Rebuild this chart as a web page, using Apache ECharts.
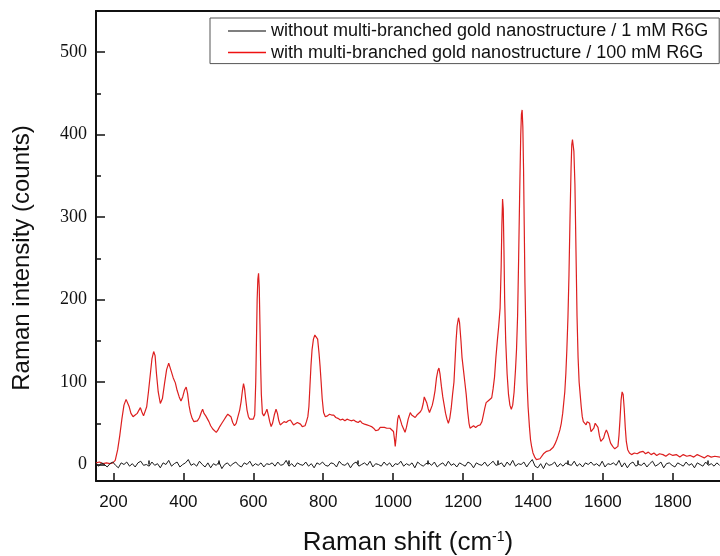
<!DOCTYPE html>
<html>
<head>
<meta charset="utf-8">
<script src="https://cdn.jsdelivr.net/npm/echarts@6/dist/echarts.min.js"></script>
<style>html,body{margin:0;padding:0;background:#fff;}#chart{width:720px;height:556px;}</style>
</head>
<body>
<div id="chart"></div>
<script>
// Tick labels
const xMajorTicks = [200, 400, 600, 800, 1000, 1200, 1400, 1600, 1800];
const xMinorTicks = [300, 500, 700, 900, 1100, 1300, 1500, 1700, 1900];
const yMajorTicks = [0, 100, 200, 300, 400, 500];
const yMinorTicks = [50, 150, 250, 350, 450];

const seriesNames = [
  'without multi-branched gold nanostructure / 1 mM R6G',
  'with multi-branched gold nanostructure / 100 mM R6G'
];

// Red trace: Raman shift (cm-1) and counts
const redShift = [150,160,170,180,190,198,205,212,218,224,230,236,240,245,250,256,262,268,273,277,281,286,290,295,300,305,310,315,319,323,328,334,340,346,352,358,362,366,371,377,382,388,393,398,403,408,412,416,420,425,430,434,440,446,451,455,459,464,468,473,478,484,489,494,499,504,510,516,522,527,531,536,541,546,551,556,561,565,569,572,575,578,582,586,590,595,600,604,607,609,611,613,615,617,619,621,623,626,630,634,639,643,647,651,655,660,665,669,673,677,682,688,694,700,706,711,715,720,726,730,735,740,744,748,752,756,759,762,765,768,772,776,780,784,788,791,794,797,801,806,812,818,824,830,836,842,849,856,862,868,874,880,887,894,900,906,912,918,925,932,938,944,950,953,958,963,968,975,982,991,996,1001,1004,1006,1009,1013,1016,1020,1025,1030,1034,1038,1043,1049,1053,1058,1063,1068,1073,1078,1082,1086,1089,1092,1096,1100,1104,1108,1112,1116,1120,1124,1128,1131,1134,1138,1142,1146,1150,1154,1158,1162,1166,1170,1174,1177,1180,1183,1187,1190,1194,1197,1201,1205,1209,1213,1217,1220,1225,1230,1236,1242,1249,1254,1258,1262,1266,1270,1274,1278,1282,1286,1290,1294,1298,1302,1306,1309,1311,1313,1315,1317,1319,1322,1326,1330,1334,1338,1342,1346,1350,1353,1356,1359,1362,1365,1367,1369,1371,1373,1375,1377,1380,1383,1386,1390,1393,1396,1400,1405,1410,1415,1420,1425,1430,1435,1439,1444,1448,1453,1458,1463,1468,1472,1477,1481,1485,1488,1491,1494,1497,1500,1503,1506,1509,1511,1513,1515,1517,1520,1523,1526,1529,1532,1535,1538,1541,1544,1548,1552,1555,1558,1562,1566,1570,1574,1578,1582,1586,1590,1594,1598,1602,1606,1610,1614,1618,1622,1628,1634,1639,1643,1646,1649,1652,1655,1658,1661,1664,1667,1671,1676,1682,1690,1698,1706,1715,1722,1730,1738,1746,1754,1762,1772,1780,1790,1800,1810,1820,1830,1840,1850,1860,1870,1880,1890,1900,1910,1920,1935];
const redCounts = [2,3,1,2,1,2,5,18,35,55,72,79,77,70,62,58,60,62,66,69,64,59,61,70,88,108,128,137,132,110,88,74,80,98,115,123,122,112,105,99,90,82,77,82,90,94,86,72,63,56,52,50,53,57,63,67,62,59,58,52,47,43,42,39,42,46,50,54,58,61,63,58,51,47,50,58,66,76,90,98,92,80,66,58,55,54,55,60,100,150,200,225,232,215,170,120,85,62,59,62,67,60,52,46,50,60,67,62,53,48,50,52,51,53,54,52,48,50,51,49,49,46,44,47,52,58,70,95,120,139,152,157,158,152,135,119,100,80,63,58,59,61,60,60,57,56,54,55,53,55,54,53,54,52,51,53,50,49,48,47,46,44,41,40,42,45,46,45,44,44,42,40,30,22,35,55,60,55,48,43,39,45,55,63,60,58,57,60,62,64,67,74,82,83,75,68,63,64,72,80,90,105,114,117,110,95,82,72,62,55,50,56,68,85,100,125,150,168,178,172,150,130,115,100,85,65,50,44,46,47,45,47,48,52,60,68,75,77,78,80,81,92,106,130,150,168,190,240,290,322,310,260,200,150,110,85,72,67,72,88,115,140,180,250,330,400,425,430,410,360,290,220,150,100,70,45,30,22,14,9,6,5,7,9,13,15,16,18,17,19,21,25,30,35,42,50,62,75,88,110,140,178,230,300,360,388,394,392,380,340,260,180,130,100,85,70,58,52,50,48,52,54,50,40,38,44,50,52,45,35,28,26,32,38,42,38,32,26,22,19,18,22,35,55,78,88,85,68,45,28,18,14,12,14,13,15,16,13,15,12,14,11,13,12,10,13,11,12,9,12,10,11,9,12,10,8,11,9,10,9];

// Black trace: noise around zero (shift, counts)
const blackTrace = [
[150,1],[158,-2],[166,2],[174,0],[182,-3],[190,1],[198,3],[206,-1],[214,-4],[222,2],[230,0],[238,3],[246,-2],[254,1],[262,-3],[270,2],[278,4],[286,-1],[294,0],[302,-2],
[310,3],[318,-1],[326,1],[334,-4],[342,2],[350,0],[358,5],[366,-2],[374,1],[382,3],[390,-3],[398,0],[406,2],[414,6],[422,-1],[430,1],[438,-2],[446,4],[454,0],[462,-3],
[470,2],[478,-4],[486,1],[494,-1],[502,3],[510,-5],[518,0],[526,2],[534,-2],[542,1],[550,3],[558,-1],[566,-3],[574,2],[582,0],[590,4],[598,-2],[606,1],[614,-1],[622,2],
[630,-3],[638,1],[646,0],[654,2],[662,-2],[670,3],[678,-1],[686,0],[694,5],[702,-2],[710,1],[718,-3],[726,2],[734,0],[742,-1],[750,3],[758,-2],[766,1],[774,-4],[782,2],
[790,0],[798,3],[806,-1],[814,-2],[822,2],[830,1],[838,-3],[846,4],[854,0],[862,-1],[870,2],[878,-4],[886,1],[894,3],[902,-2],[910,0],[918,2],[926,-1],[934,4],[942,-3],
[950,1],[958,0],[966,-2],[974,3],[982,-1],[990,2],[998,-3],[1006,1],[1014,0],[1022,4],[1030,-2],[1038,1],[1046,-1],[1054,2],[1062,-4],[1070,3],[1078,0],[1086,-2],[1094,1],[1102,2],
[1110,-1],[1118,3],[1126,-3],[1134,0],[1142,2],[1150,-2],[1158,4],[1166,-1],[1174,1],[1182,-3],[1190,2],[1198,0],[1206,-2],[1214,3],[1222,1],[1230,-4],[1238,2],[1246,0],[1254,-1],[1262,3],
[1270,-2],[1278,1],[1286,4],[1294,-1],[1302,0],[1310,2],[1318,-3],[1326,3],[1334,-1],[1342,5],[1350,-2],[1358,1],[1366,0],[1374,3],[1382,-3],[1390,2],[1398,6],[1406,-2],[1414,-4],[1422,1],
[1430,-5],[1438,2],[1446,-1],[1454,0],[1462,3],[1470,-3],[1478,1],[1486,-2],[1494,2],[1502,0],[1510,-1],[1518,4],[1526,-2],[1534,1],[1542,-3],[1550,2],[1558,0],[1566,3],[1574,-1],[1582,1],
[1590,-2],[1598,4],[1606,-3],[1614,1],[1622,0],[1630,2],[1638,-1],[1646,5],[1654,-3],[1662,2],[1670,-4],[1678,1],[1686,3],[1694,-2],[1702,0],[1710,-1],[1718,2],[1726,-3],[1734,1],[1742,4],
[1750,-2],[1758,0],[1766,3],[1774,-4],[1782,1],[1790,2],[1798,-1],[1806,-3],[1814,2],[1822,0],[1830,-2],[1838,3],[1846,-1],[1854,1],[1862,-4],[1870,2],[1878,0],[1886,-2],[1894,3],[1902,-1],
[1910,1],[1918,-2],[1926,2],[1934,-1]
];

const redData = redShift.map((v, i) => [v, redCounts[i]]);

const chart = echarts.init(document.getElementById('chart'), null, {renderer: 'canvas'});
const sans = 'Liberation Sans, Arial, sans-serif';
const axisCommon = {type: 'value', min: 150, max: 1935, gridIndex: 0};
const option = {
  backgroundColor: '#fff',
  animation: false,
  grid: {left: 96, right: 0, top: 11, bottom: 75, containLabel: false, outerBoundsMode: 'none'},
  legend: {
    orient: 'vertical', left: 210, top: 18,
    padding: [3, 11, 1, 18],
    icon: 'rect',
    itemWidth: 38, itemHeight: 1.5, itemGap: 1.6,
    borderColor: '#555', borderWidth: 1, backgroundColor: '#fff',
    textStyle: {fontFamily: sans, fontSize: 18, color: '#111', lineHeight: 20},
    data: [
      {name: seriesNames[0], itemStyle: {color: '#555'}},
      {name: seriesNames[1], itemStyle: {color: '#ee1111'}}
    ]
  },
  graphic: [{
    type: 'text', x: 22, y: 258, rotation: Math.PI / 2,
    style: {text: 'Raman intensity (counts)', fontFamily: sans, fontSize: 24, fill: '#111', align: 'center', verticalAlign: 'middle'}
  }],
  xAxis: [
    Object.assign({}, axisCommon, {
      position: 'bottom',
      name: '{a|Raman shift (cm}{s|-1}{a|)}',
      nameLocation: 'middle', nameGap: 49,
      nameTextStyle: {rich: {
        a: {fontFamily: sans, fontSize: 26, color: '#111'},
        s: {fontFamily: sans, fontSize: 14, color: '#111', verticalAlign: 'top', padding: [0, 0, 12, 0]}
      }},
      axisLine: {show: true, onZero: false, lineStyle: {color: '#111', width: 2}},
      axisTick: {show: true, inside: true, length: 8, lineStyle: {color: '#111', width: 1.5}, customValues: xMajorTicks},
      axisLabel: {show: true, customValues: xMajorTicks, margin: 13, fontFamily: sans, fontSize: 17, color: '#111', formatter: v => String(v)},
      splitLine: {show: false}
    }),
    Object.assign({}, axisCommon, {
      position: 'bottom',
      axisLine: {show: false},
      axisTick: {show: true, inside: true, length: 4, lineStyle: {color: '#111', width: 1.5}, customValues: xMinorTicks},
      axisLabel: {show: false},
      splitLine: {show: false}
    }),
    Object.assign({}, axisCommon, {
      position: 'top',
      axisLine: {show: true, onZero: false, lineStyle: {color: '#111', width: 2}},
      axisTick: {show: false},
      axisLabel: {show: false},
      splitLine: {show: false}
    })
  ],
  yAxis: [
    {
      type: 'value', min: -20, max: 550, position: 'left',
      axisLine: {show: true, onZero: false, lineStyle: {color: '#111', width: 2}},
      axisTick: {show: true, inside: true, length: 9, lineStyle: {color: '#111', width: 1.5}, customValues: yMajorTicks},
      axisLabel: {show: true, customValues: yMajorTicks, margin: 9, fontFamily: 'Liberation Serif, Times New Roman, serif', fontSize: 18, color: '#111'},
      splitLine: {show: false}
    },
    {
      type: 'value', min: -20, max: 550, position: 'left',
      axisLine: {show: false},
      axisTick: {show: true, inside: true, length: 5, lineStyle: {color: '#111', width: 1.5}, customValues: yMinorTicks},
      axisLabel: {show: false},
      splitLine: {show: false}
    }
  ],
  series: [
    {
      name: seriesNames[0], type: 'line', xAxisIndex: 0, yAxisIndex: 0,
      data: blackTrace, showSymbol: false, symbol: 'none',
      lineStyle: {color: '#1a1a1a', width: 1}, itemStyle: {color: '#555'}, z: 3
    },
    {
      name: seriesNames[1], type: 'line', xAxisIndex: 0, yAxisIndex: 0,
      data: redData, showSymbol: false, symbol: 'none',
      lineStyle: {color: '#dd1f1f', width: 1.2}, itemStyle: {color: '#ee1111'}, z: 2
    }
  ]
};
chart.setOption(option);
</script>
</body>
</html>
